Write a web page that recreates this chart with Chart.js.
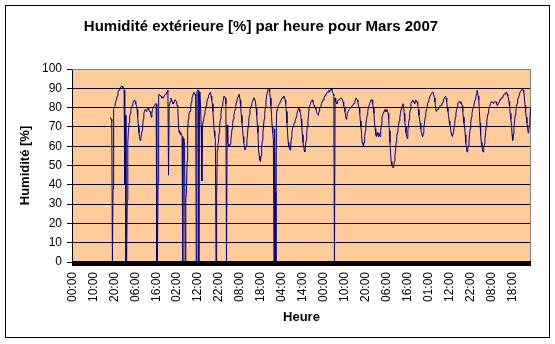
<!DOCTYPE html>
<html>
<head>
<meta charset="utf-8">
<script src="https://cdn.jsdelivr.net/npm/chart.js@4.4.1/dist/chart.umd.min.js"></script>
<style>
  html, body { margin: 0; padding: 0; background: #ffffff; }
  canvas { display: block; }
</style>
</head>
<body>
<canvas id="chart" width="555" height="344"></canvas>
<script>
// Outdoor relative humidity, one reading per hour, March 2007.
const chartTitle = 'Humidité extérieure [%] par heure pour Mars 2007';
const yAxisTitle = 'Humidité [%]';
const xAxisTitle = 'Heure';

const hoursInMonth = 744;      // 31 days x 24 h
const labelStep = 34;          // one axis label every 34 hours
const tickLabels = ['00:00', '10:00', '20:00', '06:00', '16:00', '02:00', '12:00', '22:00',
                    '08:00', '18:00', '04:00', '14:00', '00:00', '10:00', '20:00', '06:00',
                    '16:00', '01:00', '12:00', '22:00', '08:00', '18:00'];

const yMin = 0, yMax = 100, yStep = 10;

// The sensor only starts logging at hour 62; zeros are sensor dropouts.
const firstLoggedHour = 62;
const humidity = [
  75, 74, 73, 0, 38, 79, 80, 81,
  82, 84, 85, 86, 88, 89, 89, 90, 90, 91,
  91, 91, 90, 90, 89, 40, 76, 0, 0, 32,
  62, 68, 72, 75, 77, 79, 80, 81, 82, 83,
  83, 84, 83, 82, 81, 79, 75, 71, 67, 65,
  63, 64, 66, 68, 70, 74, 77, 78, 79, 79,
  78, 79, 80, 80, 79, 78, 78, 77, 75, 77,
  79, 80, 80, 81, 81, 82, 82, 0, 0, 41,
  86, 87, 87, 86, 86, 85, 85, 85, 85, 86,
  86, 87, 87, 88, 88, 89, 45, 81, 81, 83,
  85, 84, 83, 82, 82, 83, 84, 84, 84, 83,
  81, 80, 72, 67, 68, 66, 67, 66, 65, 0,
  64, 63, 62, 0, 33, 35, 52, 68, 74, 76,
  78, 78, 80, 83, 85, 86, 87, 88, 87, 87,
  86, 0, 88, 89, 89, 0, 88, 87, 80, 70,
  42, 70, 73, 74, 76, 78, 79, 81, 83, 84,
  85, 86, 87, 87, 88, 86, 84, 82, 78, 73,
  68, 65, 63, 0, 33, 58, 61, 62, 67, 71,
  74, 77, 80, 81, 83, 84, 86, 86, 85, 82,
  0, 71, 62, 61, 60, 60, 61, 63, 66, 69,
  72, 74, 76, 78, 79, 81, 83, 84, 85, 86,
  87, 86, 84, 80, 76, 72, 69, 65, 62, 60,
  58, 58, 60, 63, 66, 70, 73, 76, 79, 80,
  81, 82, 83, 84, 85, 85, 85, 83, 80, 76,
  71, 67, 58, 55, 53, 52, 55, 58, 63, 67,
  70, 74, 77, 80, 83, 86, 88, 89, 90, 90,
  88, 85, 81, 76, 70, 67, 63, 0, 69, 36,
  0, 76, 79, 80, 81, 81, 82, 83, 84, 84,
  85, 85, 85, 86, 85, 84, 82, 78, 72, 67,
  62, 60, 59, 58, 60, 64, 67, 69, 70, 71,
  72, 73, 74, 75, 76, 78, 79, 80, 79, 78,
  77, 74, 70, 66, 62, 60, 58, 57, 60, 63,
  67, 70, 73, 76, 80, 81, 82, 83, 83, 84,
  83, 82, 81, 80, 80, 79, 78, 77, 77, 76,
  78, 80, 80, 81, 82, 83, 84, 84, 85, 86,
  86, 87, 87, 88, 88, 88, 89, 88, 89, 90,
  90, 89, 88, 87, 86, 0, 85, 83, 83, 82,
  83, 84, 84, 84, 84, 85, 85, 85, 84, 83,
  81, 80, 78, 76, 74, 75, 77, 78, 78, 79,
  79, 80, 80, 80, 81, 81, 82, 82, 83, 84,
  85, 85, 84, 83, 81, 80, 77, 73, 70, 66,
  62, 61, 60, 62, 65, 68, 71, 74, 76, 78,
  80, 81, 82, 83, 84, 84, 84, 82, 80, 77,
  72, 69, 66, 65, 67, 66, 65, 67, 66, 65,
  68, 71, 75, 76, 77, 78, 78, 79, 78, 78,
  79, 78, 77, 74, 68, 62, 56, 52, 50, 49,
  49, 50, 52, 55, 58, 62, 65, 67, 69, 71,
  73, 75, 77, 79, 80, 81, 82, 81, 77, 73,
  70, 67, 65, 64, 68, 71, 74, 77, 79, 82,
  83, 83, 84, 83, 83, 82, 83, 84, 83, 83,
  82, 79, 76, 74, 72, 69, 67, 66, 65, 67,
  70, 72, 75, 77, 79, 80, 82, 83, 84, 85,
  86, 86, 87, 87, 88, 88, 88, 85, 83, 80,
  78, 78, 79, 79, 80, 80, 81, 81, 81, 82,
  82, 83, 84, 85, 85, 86, 85, 83, 80, 78,
  76, 73, 71, 70, 67, 66, 65, 65, 67, 70,
  72, 75, 77, 79, 80, 82, 83, 83, 83, 83,
  82, 82, 81, 78, 75, 72, 70, 66, 62, 59,
  57, 58, 60, 62, 66, 69, 72, 75, 77, 79,
  80, 81, 83, 84, 85, 87, 89, 88, 86, 84,
  78, 72, 66, 62, 60, 58, 57, 59, 61, 64,
  67, 70, 73, 75, 77, 79, 80, 81, 82, 83,
  83, 83, 83, 82, 83, 83, 83, 83, 82, 81,
  81, 82, 83, 84, 84, 85, 85, 85, 86, 86,
  87, 87, 87, 88, 88, 87, 86, 85, 83, 80,
  77, 74, 71, 66, 63, 66, 70, 73, 76, 78,
  80, 82, 84, 85, 86, 87, 88, 88, 89, 90,
  90, 89, 88, 85, 81, 78, 75, 72, 70, 67,
  68, 71, 74, 80
];

// Category per hour; only every 34th hour carries a visible label.
const categories = [];
for (let i = 0; i < hoursInMonth; i++) {
  categories.push(i % labelStep === 0 ? tickLabels[i / labelStep] : '');
}
const series = new Array(firstLoggedHour).fill(null).concat(humidity);

const fontFamily = '"Liberation Sans", Arial, Helvetica, sans-serif';

// Page frame, plot background, plot border, heavy base line and title.
const decorations = {
  id: 'decorations',
  beforeDraw(chart) {
    const { ctx, chartArea: a } = chart;
    ctx.save();
    ctx.fillStyle = '#ffffff';
    ctx.fillRect(0, 0, chart.width, chart.height);
    ctx.fillStyle = '#FFCC99';
    ctx.fillRect(a.left, a.top, a.right - a.left, a.bottom - a.top);
    ctx.restore();
  },
  beforeDatasetsDraw(chart) {
    const { ctx, chartArea: a } = chart;
    ctx.save();
    ctx.strokeStyle = '#808080';
    ctx.lineWidth = 1;
    ctx.beginPath();
    ctx.moveTo(a.left, a.top + 0.5);
    ctx.lineTo(a.right - 0.5, a.top + 0.5);
    ctx.lineTo(a.right - 0.5, a.bottom);
    ctx.stroke();
    ctx.restore();
  },
  afterDatasetsDraw(chart) {
    const { ctx, chartArea: a } = chart;
    ctx.save();
    ctx.fillStyle = '#000000';
    ctx.fillRect(a.left, a.bottom - 1, a.right - a.left, 5);
    ctx.restore();
  },
  afterDraw(chart) {
    const { ctx } = chart;
    ctx.save();
    ctx.fillStyle = '#000000';
    ctx.font = 'bold 15px ' + fontFamily;
    ctx.textAlign = 'center';
    ctx.textBaseline = 'alphabetic';
    ctx.fillText(chartTitle, 261, 31);
    ctx.strokeStyle = '#000000';
    ctx.lineWidth = 1;
    ctx.strokeRect(5.5, 5.5, 544, 332);
    ctx.restore();
  }
};

new Chart(document.getElementById('chart'), {
  type: 'line',
  data: {
    labels: categories,
    datasets: [{
      data: series,
      borderColor: '#000080',
      borderWidth: 1,
      pointRadius: 0,
      tension: 0,
      fill: false,
      spanGaps: false
    }]
  },
  options: {
    responsive: false,
    devicePixelRatio: 1,
    animation: false,
    events: [],
    layout: { padding: { left: 0, right: 15, top: 69, bottom: 0 } },
    plugins: {
      legend: { display: false },
      title: { display: false },
      tooltip: { enabled: false }
    },
    scales: {
      x: {
        type: 'category',
        offset: true,
        grid: { display: false, drawTicks: false },
        border: { display: false },
        ticks: {
          autoSkip: false,
          maxRotation: 90,
          minRotation: 90,
          padding: 10,
          color: '#000000',
          font: { family: fontFamily, size: 12 }
        },
        title: {
          display: true,
          text: xAxisTitle,
          color: '#000000',
          font: { family: fontFamily, size: 13, weight: 'bold' },
          padding: { top: 0, bottom: 19 }
        },
        afterFit(scale) { scale.height = 82; }
      },
      y: {
        min: yMin,
        max: yMax,
        ticks: {
          stepSize: yStep,
          padding: 5,
          color: '#000000',
          font: { family: fontFamily, size: 12 }
        },
        grid: {
          color: (ctx) => (ctx.tick && ctx.tick.value === yMax ? '#808080' : '#000000'),
          tickColor: '#000000',
          tickLength: 5,
          lineWidth: 1
        },
        border: { display: true, color: '#000000', width: 1 },
        title: {
          display: true,
          text: yAxisTitle,
          color: '#000000',
          font: { family: fontFamily, size: 13, weight: 'bold' },
          padding: { top: 18, bottom: 0 }
        },
        afterFit(scale) { scale.width = 72; }
      }
    }
  },
  plugins: [decorations]
});
</script>
</body>
</html>
